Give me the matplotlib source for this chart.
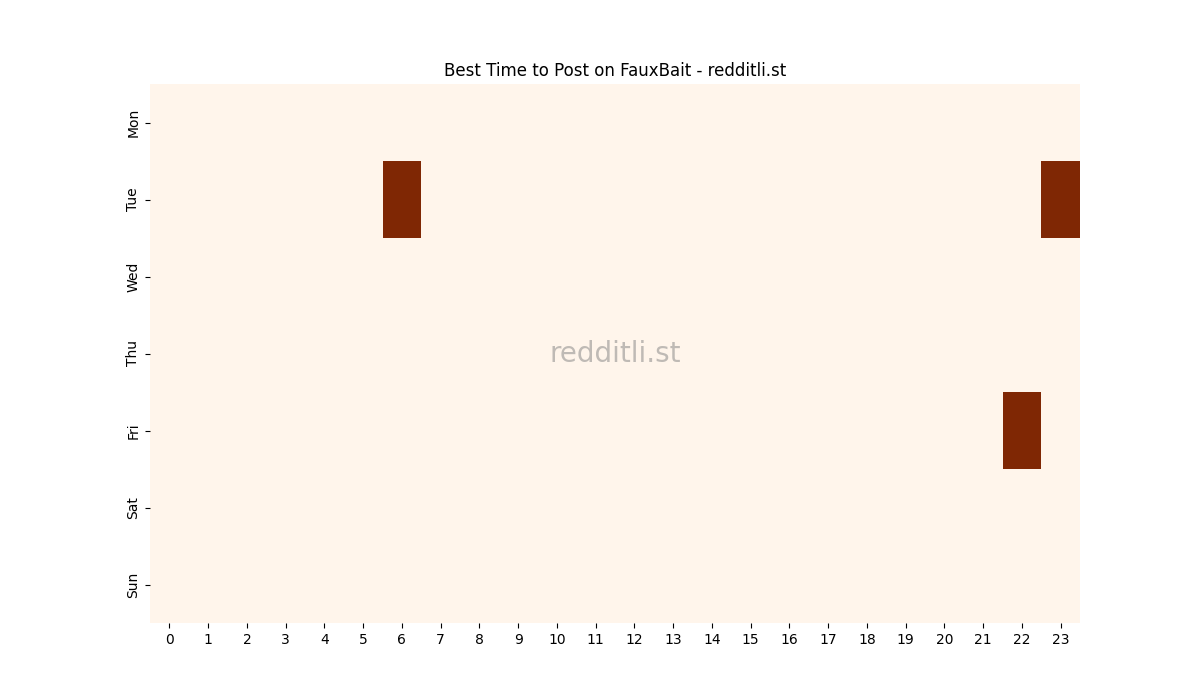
import matplotlib
matplotlib.use("Agg")
import matplotlib.pyplot as plt
import seaborn as sns
import numpy as np

days = ["Mon", "Tue", "Wed", "Thu", "Fri", "Sat", "Sun"]
hours = list(range(24))

# (day, hour) slots marked as best time to post
best_slots = [("Tue", 6), ("Tue", 23), ("Fri", 22)]

grid = np.zeros((len(days), len(hours)))
for day, hour in best_slots:
    grid[days.index(day), hour] = 1

fig, ax = plt.subplots(figsize=(12, 7), dpi=100)
sns.heatmap(grid, cmap="Oranges", cbar=False, ax=ax,
            xticklabels=hours, yticklabels=days)
ax.set_yticklabels(days, rotation=90, va="center")
ax.set_xticklabels(hours, rotation=0)
ax.set_title("Best Time to Post on FauxBait - redditli.st")
ax.text(0.5, 0.5, "redditli.st", transform=ax.transAxes,
        fontsize=20, color="gray", alpha=0.5, ha="center", va="center")

plt.savefig("out.png")
